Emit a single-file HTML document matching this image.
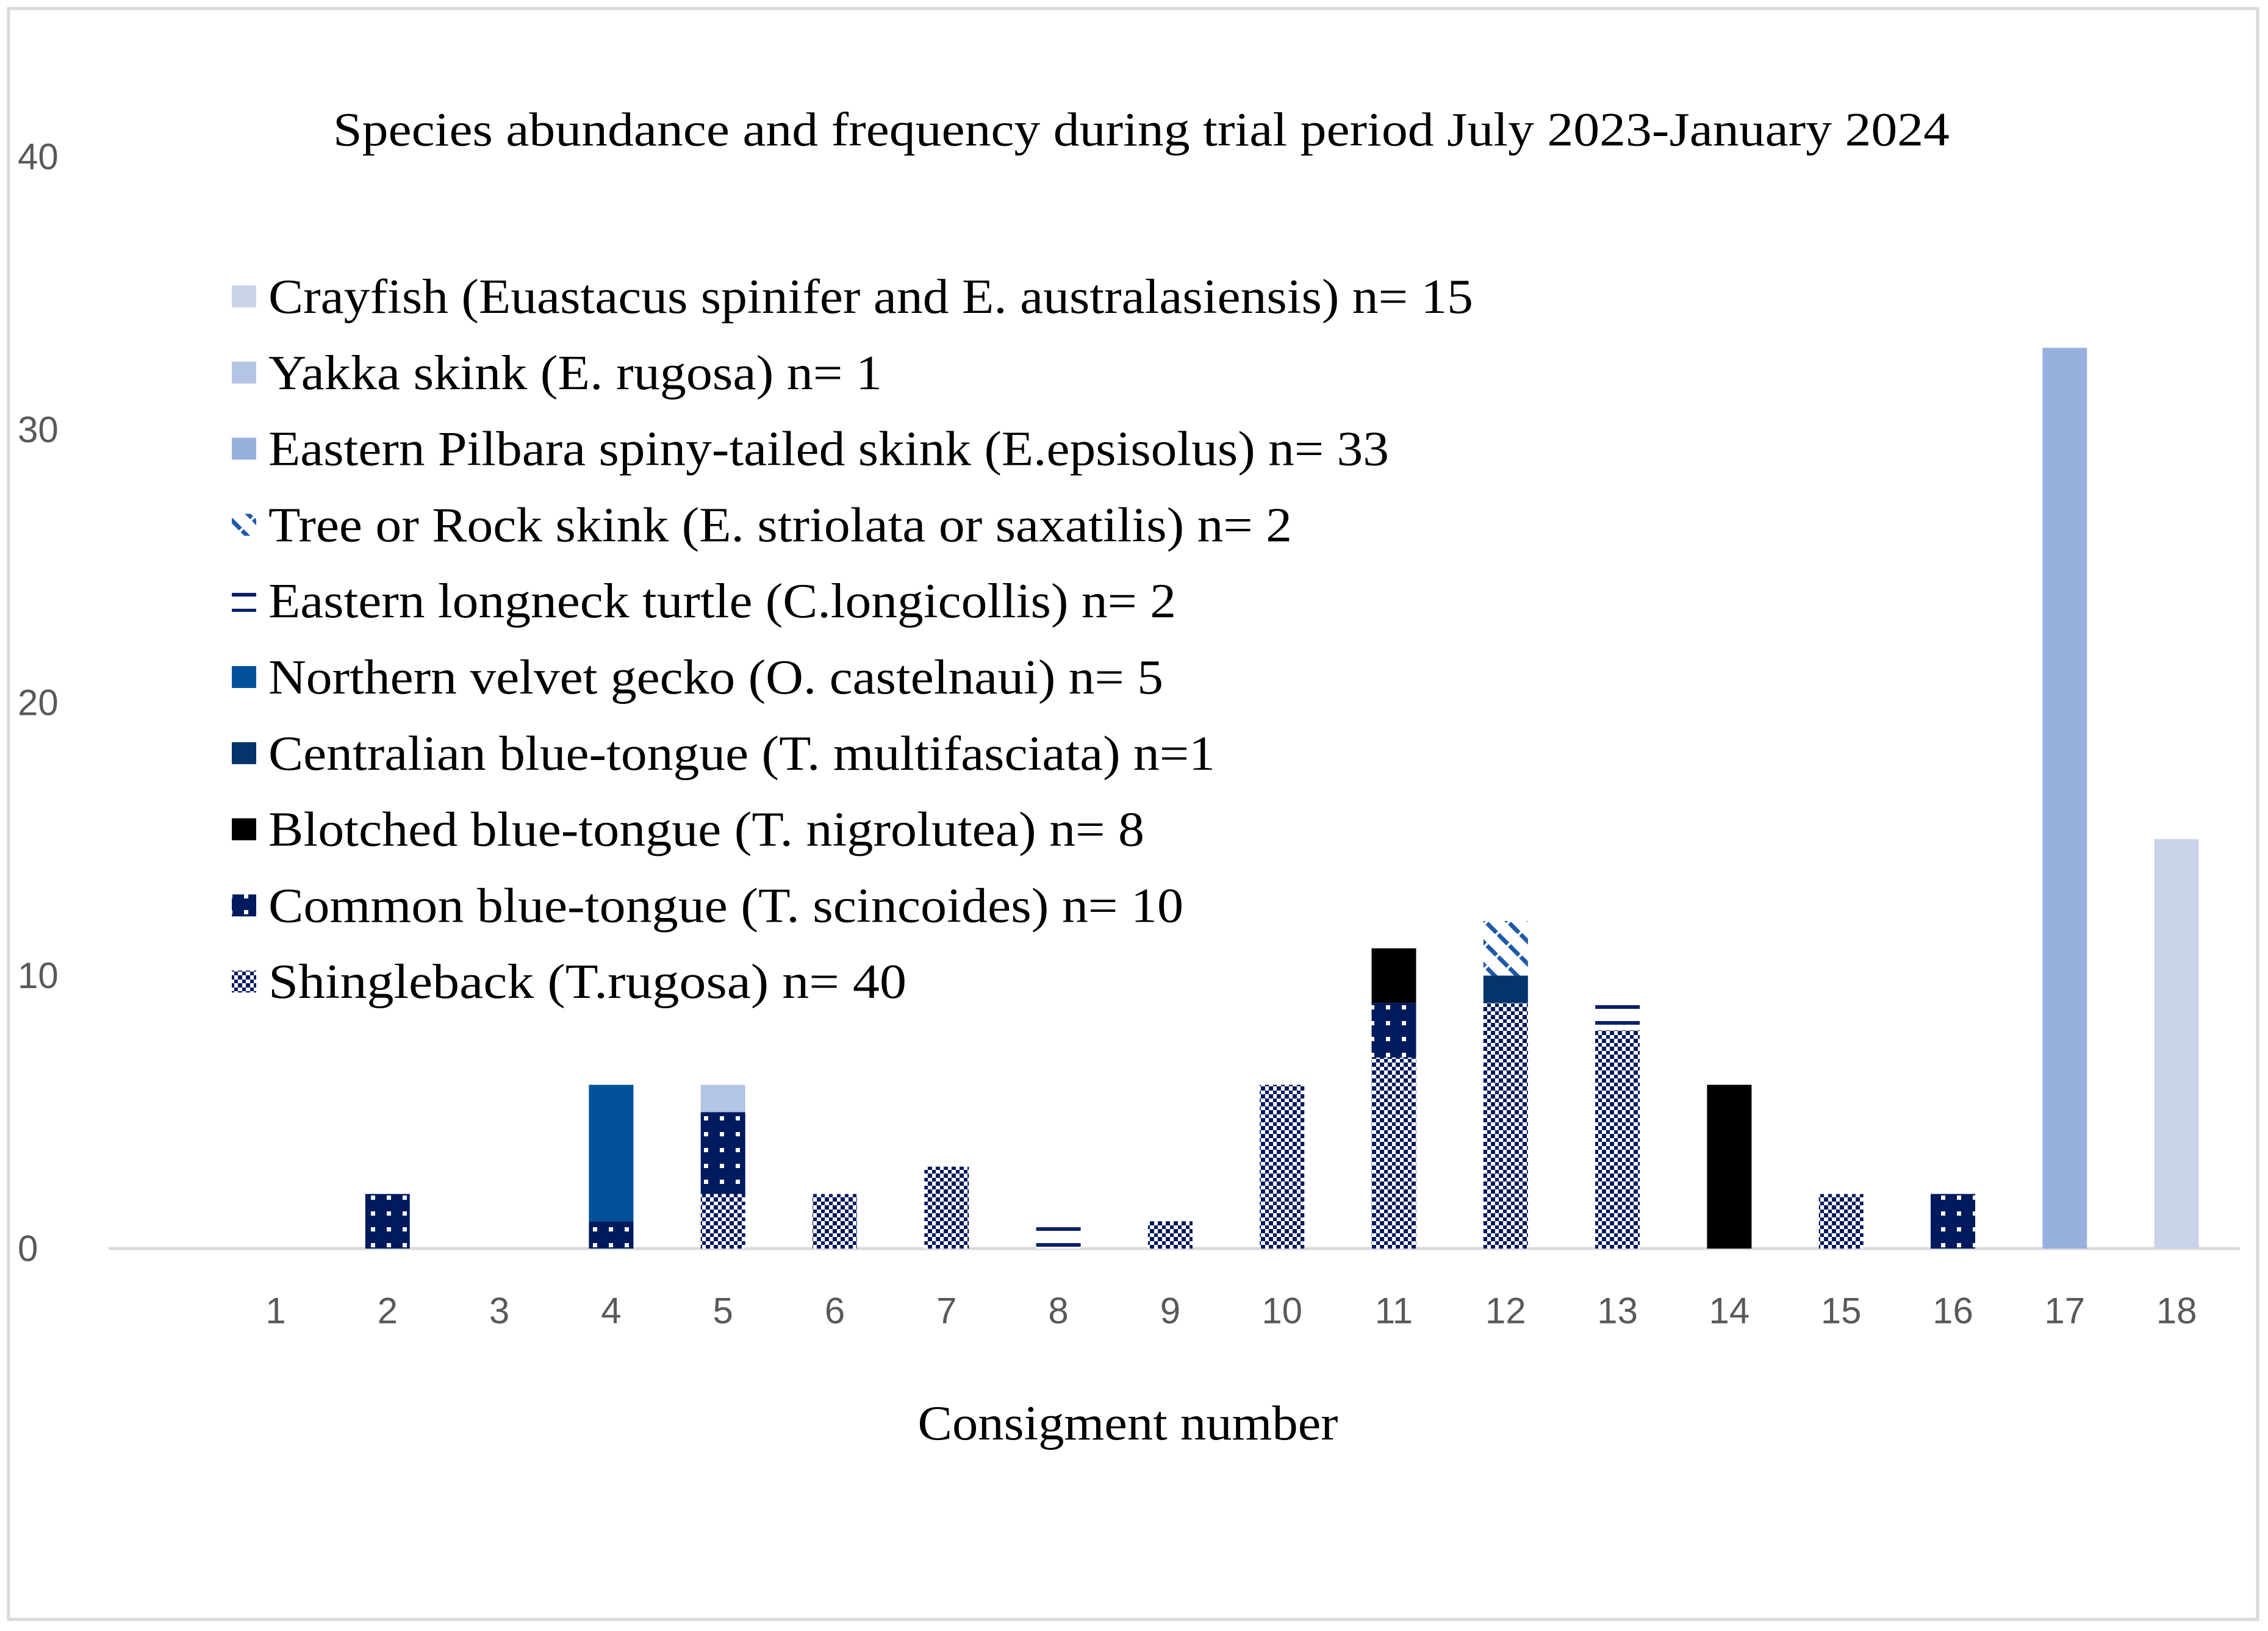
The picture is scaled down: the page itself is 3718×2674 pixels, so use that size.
<!DOCTYPE html>
<html><head><meta charset="utf-8"><style>
html,body{margin:0;padding:0;background:#fff;}
svg{display:block;}
text{font-family:"Liberation Serif",serif;}
.tick{font-family:"Liberation Sans",sans-serif;fill:#595959;font-size:60px;}
</style></head><body>
<svg id="chart" width="3718" height="2674" viewBox="0 0 3718 2674" xmlns="http://www.w3.org/2000/svg">
<defs>
<pattern id="p-shingle" width="13" height="13" patternUnits="userSpaceOnUse">
<rect width="13" height="13" fill="#fff"/><rect width="7" height="7" fill="#001a5e"/><rect x="7" y="7" width="6" height="6" fill="#001a5e"/></pattern>
<pattern id="p-common" width="26" height="26" patternUnits="userSpaceOnUse">
<rect width="26" height="26" fill="#001a5e"/><rect x="10" y="10" width="7" height="7" fill="#fff"/></pattern>
<pattern id="p-turtle" width="26" height="26" patternUnits="userSpaceOnUse">
<rect width="26" height="26" fill="#fff"/><rect y="10" width="26" height="6" fill="#0a1f6b"/></pattern>
<pattern id="p-tree" width="26" height="26" patternUnits="userSpaceOnUse" patternTransform="rotate(-45)">
<rect width="26" height="26" fill="#fff"/><rect x="0" y="0" width="7" height="26" fill="#1f5aa8"/><rect x="0" y="8" width="7" height="4" fill="#fff"/></pattern>
</defs>
<rect x="14" y="14" width="3687" height="2641" fill="#fff" stroke="#d9d9d9" stroke-width="5"/>
<text x="1871" y="212" font-size="78" text-anchor="middle" dominant-baseline="central" textLength="2650" lengthAdjust="spacingAndGlyphs">Species abundance and frequency during trial period July 2023-January 2024</text>
<g id="yticks"></g>
<line x1="178" y1="2047" x2="3672" y2="2047" stroke="#d9d9d9" stroke-width="5"/>
<g id="bars"></g>
<g id="xticks"></g>
<text x="1849" y="2334" font-size="80" text-anchor="middle" dominant-baseline="central" textLength="689" lengthAdjust="spacingAndGlyphs">Consigment number</text>
<g id="legend"></g>
</svg>
<script>
const categories = ["1","2","3","4","5","6","7","8","9","10","11","12","13","14","15","16","17","18"];
const seriesNames = ["Shingleback  (T.rugosa) n= 40","Common blue-tongue (T. scincoides) n= 10","Blotched blue-tongue (T. nigrolutea) n= 8","Centralian blue-tongue (T. multifasciata) n=1","Northern velvet gecko (O. castelnaui) n= 5","Eastern longneck turtle (C.longicollis) n= 2","Tree or Rock skink (E. striolata or saxatilis) n= 2","Eastern Pilbara spiny-tailed skink (E.epsisolus) n= 33","Yakka skink (E. rugosa) n= 1","Crayfish (Euastacus spinifer and E. australasiensis) n= 15"];
const shingleback = [0,0,0,0,2,2,3,0,1,6,7,9,8,0,2,0,0,0];
const commonBT    = [0,2,0,1,3,0,0,0,0,0,2,0,0,0,0,2,0,0];
const blotched    = [0,0,0,0,0,0,0,0,0,0,2,0,0,6,0,0,0,0];
const centralian  = [0,0,0,0,0,0,0,0,0,0,0,1,0,0,0,0,0,0];
const velvet      = [0,0,0,5,0,0,0,0,0,0,0,0,0,0,0,0,0,0];
const turtle      = [0,0,0,0,0,0,0,1,0,0,0,0,1,0,0,0,0,0];
const treeSkink   = [0,0,0,0,0,0,0,0,0,0,0,2,0,0,0,0,0,0];
const pilbara     = [0,0,0,0,0,0,0,0,0,0,0,0,0,0,0,0,33,0];
const yakka       = [0,0,0,0,1,0,0,0,0,0,0,0,0,0,0,0,0,0];
const crayfish    = [0,0,0,0,0,0,0,0,0,0,0,0,0,0,0,0,0,15];
const yTicks = [0,10,20,30,40];

const series = [shingleback,commonBT,blotched,centralian,velvet,turtle,treeSkink,pilbara,yakka,crayfish];
const fills = ["url(#p-shingle)","url(#p-common)","#000","#03346a","#02529b","url(#p-turtle)","url(#p-tree)","#98b0dc","#b4c4e4","#c9d3ea"];
const keys = ["shingleback","common-blue-tongue","blotched-blue-tongue","centralian-blue-tongue","northern-velvet-gecko","eastern-longneck-turtle","tree-rock-skink","pilbara-skink","yakka-skink","crayfish"];
const NS = "http://www.w3.org/2000/svg";
const y = v => 2047 - v * 44.75;
const x = i => 452 + i * 183.3;
const barW = 73;

const yg = document.getElementById('yticks');
yTicks.forEach(t => {
  const el = document.createElementNS(NS,'text');
  el.setAttribute('x', 29); el.setAttribute('y', y(t));
  el.setAttribute('class','tick'); el.setAttribute('dominant-baseline','central');
  
  
  el.textContent = t; yg.appendChild(el);
});
const xg = document.getElementById('xticks');
categories.forEach((c,i) => {
  const el = document.createElementNS(NS,'text');
  el.setAttribute('x', x(i)); el.setAttribute('y', 2149);
  el.setAttribute('class','tick'); el.setAttribute('text-anchor','middle'); el.setAttribute('dominant-baseline','central');
  
  
  el.textContent = c; xg.appendChild(el);
});
const bg = document.getElementById('bars');
categories.forEach((c,i) => {
  let base = 0;
  series.forEach((s,k) => {
    const v = s[i];
    if (!v) return;
    const r = document.createElementNS(NS,'rect');
    r.setAttribute('x', x(i) - barW/2); r.setAttribute('width', barW);
    r.setAttribute('y', y(base + v)); r.setAttribute('height', y(base) - y(base + v));
    r.setAttribute('fill', fills[k]);
    
    
    bg.appendChild(r);
    base += v;
  });
});
const lg = document.getElementById('legend');
const legendLens = [1975,1006,1837,1678,1488,1467,1552,1436,1500,1046];
for (let j = 0; j < 10; j++) {
  const k = 9 - j;
  const cy = 487 + j * 124.8;
  const g = document.createElementNS(NS,'g');
  
  
  const r = document.createElementNS(NS,'rect');
  r.setAttribute('x', 380); r.setAttribute('y', cy - 19); r.setAttribute('width', 40); r.setAttribute('height', 36);
  r.setAttribute('fill', fills[k]);
  
  
  g.appendChild(r);
  const t = document.createElementNS(NS,'text');
  t.setAttribute('x', 440); t.setAttribute('y', cy); t.setAttribute('font-size', 80);
  t.setAttribute('dominant-baseline','central');
  t.setAttribute('textLength', legendLens[j]); t.setAttribute('lengthAdjust','spacingAndGlyphs');
  
  
  t.textContent = seriesNames[k];
  g.appendChild(t);
  lg.appendChild(g);
}
</script>
</body></html>
